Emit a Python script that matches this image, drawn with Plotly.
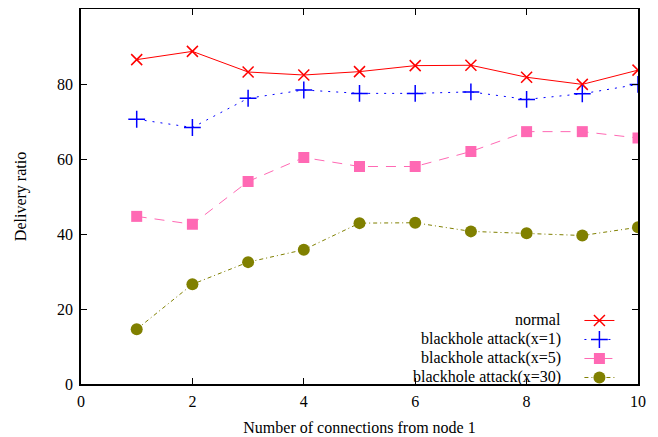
import plotly.graph_objects as go

x_vals = [1, 2, 3, 4, 5, 6, 7, 8, 9, 10]
normal = [86.5, 88.7, 83.2, 82.4, 83.3, 84.9, 85.0, 81.8, 79.9, 83.7]
bh_x1 = [70.6, 68.4, 76.2, 78.4, 77.5, 77.5, 77.9, 75.9, 77.4, 79.9]
bh_x5 = [44.7, 42.6, 54.0, 60.4, 58.0, 58.0, 62.0, 67.3, 67.3, 65.6]
bh_x30 = [14.6, 26.6, 32.5, 35.8, 42.9, 43.0, 40.7, 40.2, 39.6, 41.8]
names = ["normal", "blackhole attack(x=1)", "blackhole attack(x=5)", "blackhole attack(x=30)"]
x_ticks = [0, 2, 4, 6, 8, 10]
y_ticks = [0, 20, 40, 60, 80, 100]

FONT = "Liberation Serif, Times New Roman, serif"
FS = 16

fig = go.Figure()
fig.add_trace(go.Scatter(
    x=x_vals, y=normal, mode="lines+markers", name=" ",
    line=dict(color="#ff0000", width=1),
    marker=dict(symbol="x-thin", size=11, line=dict(color="#ff0000", width=1.5), color="#ff0000")))
fig.add_trace(go.Scatter(
    x=x_vals, y=bh_x1, mode="lines+markers", name=" ",
    line=dict(color="#0000ff", width=1, dash="2px,6px"),
    marker=dict(symbol="cross-thin", size=12, line=dict(color="#0000ff", width=1.5), color="#0000ff")))
fig.add_trace(go.Scatter(
    x=x_vals, y=bh_x5, mode="lines+markers", name=" ",
    line=dict(color="#ff69b4", width=1, dash="10px,8px"),
    marker=dict(symbol="square", size=11, color="#ff69b4")))
fig.add_trace(go.Scatter(
    x=x_vals, y=bh_x30, mode="lines+markers", name=" ",
    line=dict(color="#808000", width=1, dash="4px,3px,1px,3px"),
    marker=dict(symbol="circle", size=12, color="#808000")))

axis_common = dict(
    showgrid=False, zeroline=False, showline=True, linecolor="black", linewidth=1.5,
    mirror="ticks", ticks="inside", ticklen=6, tickcolor="black", tickwidth=1,
    tickfont=dict(family=FONT, size=FS, color="black"),
)
fig.update_xaxes(range=[0, 10], tickvals=x_ticks, ticktext=[str(v) for v in x_ticks],
                 ticklabelstandoff=2,
                 title=dict(text="Number of connections from node 1", font=dict(family=FONT, size=FS, color="black"), standoff=13),
                 **axis_common)
fig.update_yaxes(range=[0, 100], tickvals=y_ticks, ticktext=[str(v) for v in y_ticks],
                 ticklabelstandoff=3,
                 title=dict(text="Delivery ratio", font=dict(family=FONT, size=FS, color="black"), standoff=26),
                 **axis_common)

# legend: symbols only (gnuplot style), text as right-aligned annotations
fig.update_layout(
    width=650, height=429,
    margin=dict(l=73, r=20, t=1, b=53, autoexpand=False),
    paper_bgcolor="white", plot_bgcolor="white",
    font=dict(family=FONT, size=FS, color="black"),
    showlegend=True,
    legend=dict(x=0.981, xanchor="right", y=-0.0213, yanchor="bottom",
                bgcolor="rgba(0,0,0,0)", borderwidth=0, tracegroupgap=0,
                font=dict(family=FONT, size=12), itemwidth=30),
)
row_y = [0.1707, 0.12, 0.0693, 0.0187]
for nm, yy in zip(names, row_y):
    fig.add_annotation(xref="paper", yref="paper", x=0.866, y=yy, xanchor="right", yanchor="middle",
                       text=nm, showarrow=False, font=dict(family=FONT, size=FS, color="black"))

fig.write_html("out.html")
